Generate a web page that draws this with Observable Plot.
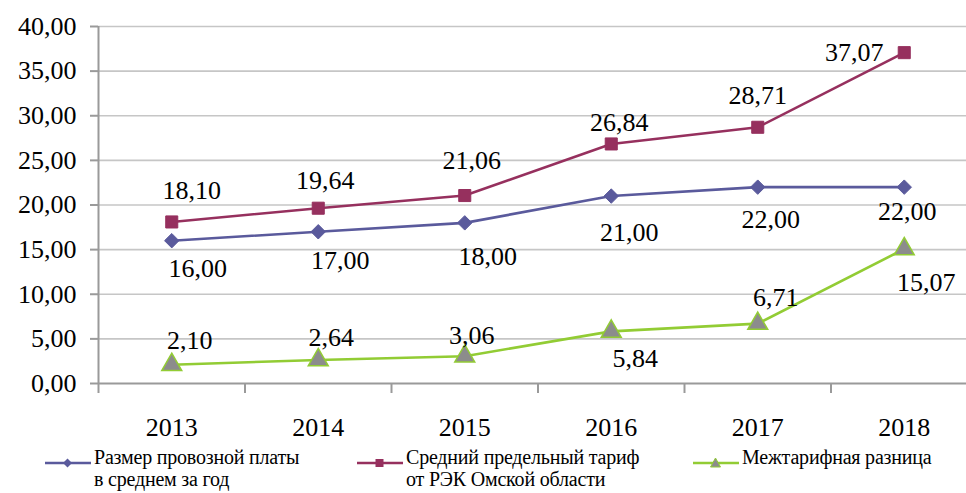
<!DOCTYPE html>
<html>
<head>
<meta charset="utf-8">
<script src="https://cdn.jsdelivr.net/npm/d3@7"></script>
<script src="https://cdn.jsdelivr.net/npm/@observablehq/plot@0.6"></script>
<style>
  html, body { margin: 0; padding: 0; background: #fff; }
  #wrap { position: relative; width: 966px; height: 493px; overflow: hidden; background: #fff; font-family: "Times New Roman", "Liberation Serif", "Noto Serif", "DejaVu Serif", FreeSerif, Times, serif; }
  #legend { position: absolute; left: 0; top: 446px; width: 966px; height: 47px; }
  .item { position: absolute; top: 0; display: flex; align-items: flex-start; }
  .item svg { margin-top: 4px; }
  .item span { font-family: inherit; font-size: 20px; line-height: 22px; color: #000; margin-left: 3px; letter-spacing: -0.2px; }
  svg text { font-family: "Times New Roman", "Liberation Serif", "Noto Serif", "DejaVu Serif", FreeSerif, Times, serif !important; }
</style>
</head>
<body>
<div id="wrap">
  <div id="chart"></div>
  <div id="legend"></div>
</div>
<script>
// ---- data ----
const years = [2013, 2014, 2015, 2016, 2017, 2018];
const seriesNames = [
  "Размер провозной платы в среднем за год",
  "Средний предельный тариф от РЭК Омской области",
  "Межтарифная разница"
];
const legendLines = [
  ["Размер провозной платы", "в среднем за год"],
  ["Средний предельный тариф", "от РЭК Омской области"],
  ["Межтарифная разница"]
];
const provozPlata = [16.00, 17.00, 18.00, 21.00, 22.00, 22.00];
const predelTarif = [18.10, 19.64, 21.06, 26.84, 28.71, 37.07];
const mezhRaznica = [2.10, 2.64, 3.06, 5.84, 6.71, 15.07];
const yTicks = [0, 5, 10, 15, 20, 25, 30, 35, 40];

// ---- styles ----
const FONT = "'Times New Roman', 'Liberation Serif', 'Noto Serif', 'DejaVu Serif', FreeSerif, Times, serif";
const colors = ["#5a5a9c", "#96305e", "#92cc34"];
const markerFill = ["#5a5a9c", "#96305e", "#8c8c8c"];
const symbols = ["diamond2", "square", "triangle"];
const radii = [6.5, 6.8, 7.4];
// label offsets [dx, dy] per point (placement style only)
const labelOffsets = [
  [[26, 28], [22, 29], [23, 34], [18, 37], [13, 33], [3, 25]],
  [[20, -31], [7, -28], [7, -35], [8, -21], [0, -32], [-50, 0]],
  [[18, -24], [13, -22], [7, -21], [24, 27], [18, -26], [22, 34]]
];

const fmt = d => d.toFixed(2).replace(".", ",");
const seriesValues = [provozPlata, predelTarif, mezhRaznica];
const rows = seriesValues.map((vals, s) => years.map((year, i) => ({series: seriesNames[s], s, i, year, value: vals[i]})));
const boundaries = [...years.map(y => y - 0.5), years[years.length - 1] + 0.5];

const marks = [
  Plot.ruleY(yTicks.filter(d => d > 0), {y: d => d, stroke: "#c6c6c6", strokeWidth: 1.6}),
  Plot.ruleY([0], {stroke: "#9a9a9a", strokeWidth: 2}),
  Plot.ruleX([boundaries[0]], {y1: 0, y2: 40, stroke: "#9a9a9a", strokeWidth: 2}),
  Plot.axisY({ticks: yTicks, tickSize: 8, tickPadding: 14, tickFormat: fmt, label: null, stroke: "#9a9a9a", strokeWidth: 2, fill: "#000", fontSize: 26, fontFamily: FONT}),
  Plot.axisX({ticks: boundaries, tickSize: 10, tickFormat: () => "", label: null, stroke: "#9a9a9a", strokeWidth: 2}),
  Plot.axisX({ticks: years, tickSize: 0, tickPadding: 34, tickFormat: d => String(d), label: null, fill: "#000", fontSize: 26, fontFamily: FONT})
];

rows.forEach((data, s) => {
  marks.push(Plot.line(data, {x: "year", y: "value", stroke: colors[s], strokeWidth: 2.6}));
});
rows.forEach((data, s) => {
  marks.push(Plot.dot(data, {x: "year", y: "value", symbol: () => symbols[s], r: radii[s], fill: markerFill[s], stroke: colors[s], strokeWidth: s === 2 ? 1.5 : 1}));
});
rows.forEach((data, s) => {
  data.forEach(d => {
    const [dx, dy] = labelOffsets[s][d.i];
    marks.push(Plot.text([d], {x: "year", y: "value", text: r => fmt(r.value), dx, dy, fill: "#000", fontSize: 26, fontFamily: FONT}));
  });
});

const chart = Plot.plot({
  width: 966,
  height: 446,
  marginLeft: 98,
  marginRight: 0,
  marginTop: 26,
  marginBottom: 63,
  x: {type: "linear", domain: [boundaries[0], boundaries[boundaries.length - 1]], range: [98, 977]},
  y: {domain: [0, 40], range: [383, 26]},
  symbol: {type: "identity"},
  style: {fontFamily: FONT, fontSize: "26px", color: "#000", background: "#fff", overflow: "hidden"},
  marks
});
document.getElementById("chart").appendChild(chart);

// ---- legend ----
const legendX = [45, 357, 693];
const legend = document.getElementById("legend");
seriesNames.forEach((name, s) => {
  const item = document.createElement("div");
  item.className = "item";
  item.style.left = legendX[s] + "px";
  let marker;
  if (s === 0) marker = `<path d="M22.5 8.5 L27 13 L22.5 17.5 L18 13 Z" fill="${colors[0]}"/>`;
  else if (s === 1) marker = `<rect x="18.5" y="9" width="8" height="8" fill="${colors[1]}"/>`;
  else marker = `<path d="M22.5 8 L27.5 17 L17.5 17 Z" fill="#8c8c8c" stroke="${colors[2]}" stroke-width="1"/>`;
  item.innerHTML = `<svg width="46" height="26"><line x1="0" y1="13" x2="46" y2="13" stroke="${colors[s]}" stroke-width="2.6"/>${marker}</svg><span>${legendLines[s].join("<br>")}</span>`;
  legend.appendChild(item);
});
</script>
</body>
</html>
